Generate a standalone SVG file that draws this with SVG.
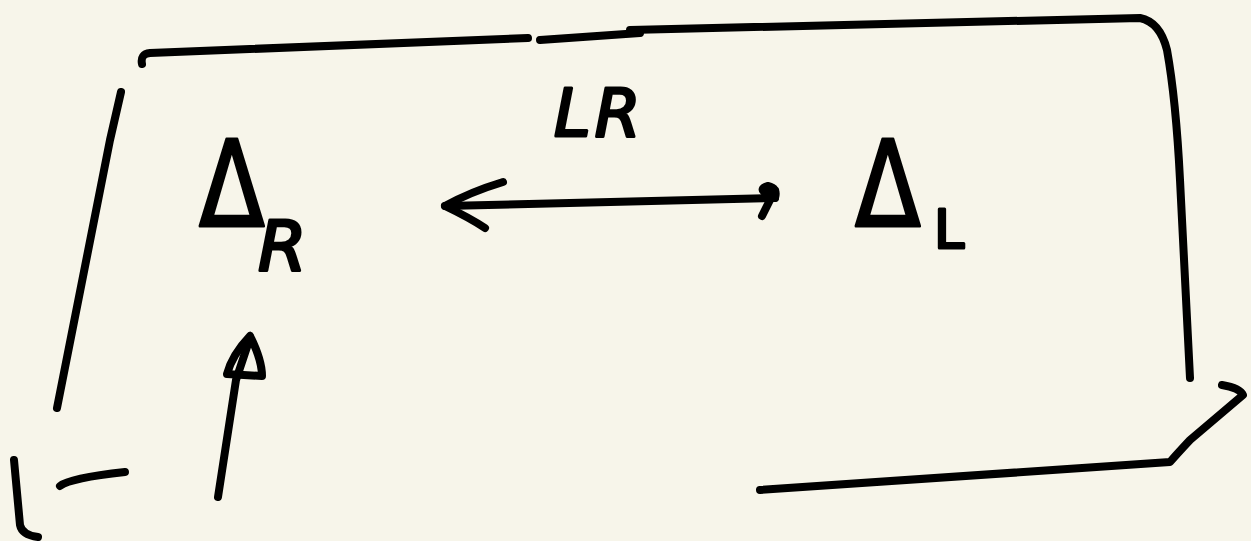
<svg xmlns="http://www.w3.org/2000/svg" width="1251" height="541" viewBox="0 0 1251 541">
<style>
.s{fill:none;stroke:#000;stroke-width:8;stroke-linecap:round;stroke-linejoin:round}
.t{font-family:"DejaVu Sans","Liberation Sans",sans-serif;fill:#000;stroke:#000;stroke-width:3;stroke-linejoin:round}
</style>
<rect width="1251" height="541" fill="#f7f5ea"/>
<g id="frame">
<path class="s" d="M142,64 Q140,54 150,53 L528,38"/>
<path class="s" d="M540,40 L640,33"/>
<path class="s" d="M630,30 L1140,18 Q1160,22 1167,50 Q1176,100 1180,180 L1190,378"/>
<path class="s" d="M121,92 L110,140 L57,408"/>
<path class="s" d="M14,460 L20,525 Q22,535 38,537"/>
<path class="s" d="M60,486 Q70,478 125,472"/>
<path class="s" d="M760,490 L1170,462 Q1176,455 1190,440 L1243,395 Q1240,388 1222,385"/>
</g>
<g id="node-delta-r">
<text class="t" transform="translate(199,226) scale(0.8,1)" font-size="120">Δ</text>
<text class="t" x="258" y="270" font-size="70" font-style="italic">R</text>
</g>
<g id="node-delta-l">
<text class="t" transform="translate(855,226) scale(0.8,1)" font-size="120">Δ</text>
<text class="t" x="934" y="248" font-size="54">L</text>
</g>
<g id="label-lr">
<text class="t" x="554" y="136" font-size="66" font-style="italic" letter-spacing="4">LR</text>
</g>
<g id="connectors">
<path class="s" d="M445,206 L775,198"/>
<path class="s" d="M503,182 Q470,192 445,206 Q470,218 485,228"/>
<path class="s" d="M775,198 Q778,188 768,186 Q760,188 764,192 Q770,194 775,190 M770,200 L762,216"/>
<path class="s" d="M218,497 L236,380 L250,338"/>
<path class="s" d="M250,336 Q262,360 262,376 L227,374 Q232,355 250,336"/>
</g>
</svg>
